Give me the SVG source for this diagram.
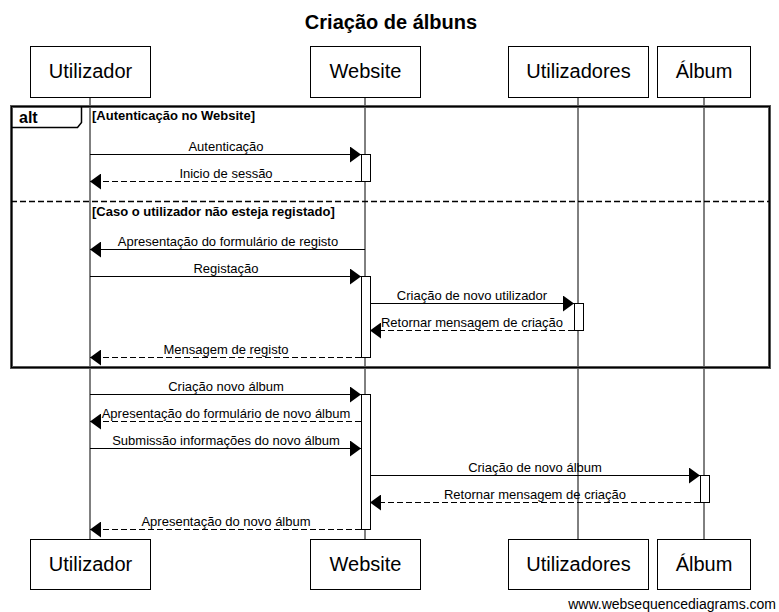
<svg xmlns="http://www.w3.org/2000/svg" width="779" height="612" viewBox="0 0 779 612">
<defs>
<marker id="ah" markerWidth="12" markerHeight="16" refX="11" refY="8" orient="auto" markerUnits="userSpaceOnUse">
<path d="M0,0 L11,8 L0,16 Z" fill="#000"/>
</marker>
<style>
text{font-family:"Liberation Sans",Arial,sans-serif;fill:#000}
.box{fill:#fff;stroke:#000;stroke-width:1}
.life{stroke:#000;stroke-width:1}
.act{fill:#fff;stroke:#000;stroke-width:1}
.node{font-size:20px;text-anchor:middle}
.msg{font-size:13px;text-anchor:middle}
.solid{stroke:#000;stroke-width:1;fill:none;marker-end:url(#ah)}
.dash{stroke:#000;stroke-width:1;fill:none;stroke-dasharray:6,3;marker-end:url(#ah)}
.guard{font-size:13px;font-weight:bold}
</style>
</defs>
<rect width="779" height="612" fill="#fff"/>
<text x="391" y="29" font-size="20" font-weight="bold" text-anchor="middle">Criação de álbuns</text>

<g id="lifelines">
<line class="life" x1="90" y1="97" x2="90" y2="539"/>
<line class="life" x1="365" y1="97" x2="365" y2="539"/>
<line class="life" x1="578" y1="97" x2="578" y2="539"/>
<line class="life" x1="704" y1="97" x2="704" y2="539"/>
</g>

<g id="alt-frame">
<rect x="11.5" y="106.5" width="758" height="261" fill="none" stroke="#555" stroke-width="3"/>
<rect x="11.5" y="106.5" width="758" height="261" fill="none" stroke="#000" stroke-width="1"/>
<path d="M11.5,127.5 L77.5,127.5 L81.5,122.5 L81.5,106.5" fill="none" stroke="#000" stroke-width="1.5"/>
<text x="19" y="123" font-size="16" font-weight="bold">alt</text>
<text class="guard" x="92" y="120">[Autenticação no Website]</text>
<line x1="11" y1="201.5" x2="770" y2="201.5" stroke="#000" stroke-width="1.5" stroke-dasharray="6,3"/>
<text class="guard" x="92" y="216">[Caso o utilizador não esteja registado]</text>
</g>

<g id="activations">
<rect class="act" x="361.5" y="154.5" width="9" height="27"/>
<rect class="act" x="361.5" y="276.5" width="9" height="81"/>
<rect class="act" x="574.5" y="303.5" width="9" height="27"/>
<rect class="act" x="361.5" y="394.5" width="9" height="135"/>
<rect class="act" x="700.5" y="475.5" width="9" height="27"/>
</g>

<g id="connectors">
<line class="solid" x1="90" y1="154.5" x2="361" y2="154.5"/>
<text class="msg" x="226" y="151">Autenticação</text>
<line class="dash" x1="361" y1="181.5" x2="90" y2="181.5"/>
<text class="msg" x="226" y="178">Inicio de sessão</text>
<line class="solid" x1="365" y1="249.5" x2="90" y2="249.5"/>
<text class="msg" x="228" y="246">Apresentação do formulário de registo</text>
<line class="solid" x1="90" y1="276.5" x2="361" y2="276.5"/>
<text class="msg" x="226" y="273">Registação</text>
<line class="solid" x1="370" y1="303.5" x2="574" y2="303.5"/>
<text class="msg" x="472" y="300">Criação de novo utilizador</text>
<line class="dash" x1="574" y1="330.5" x2="370" y2="330.5"/>
<text class="msg" x="472" y="327">Retornar mensagem de criação</text>
<line class="dash" x1="361" y1="357.5" x2="90" y2="357.5"/>
<text class="msg" x="226" y="354">Mensagem de registo</text>
<line class="solid" x1="90" y1="394.5" x2="361" y2="394.5"/>
<text class="msg" x="226" y="391">Criação novo álbum</text>
<line class="dash" x1="361" y1="421.5" x2="90" y2="421.5"/>
<text class="msg" x="226" y="418">Apresentação do formulário de novo álbum</text>
<line class="solid" x1="90" y1="448.5" x2="361" y2="448.5"/>
<text class="msg" x="226" y="445">Submissão informações do novo álbum</text>
<line class="solid" x1="370" y1="475.5" x2="700" y2="475.5"/>
<text class="msg" x="535" y="472">Criação de novo álbum</text>
<line class="dash" x1="700" y1="502.5" x2="370" y2="502.5"/>
<text class="msg" x="535" y="499">Retornar mensagem de criação</text>
<line class="dash" x1="361" y1="529.5" x2="90" y2="529.5"/>
<text class="msg" x="226" y="526">Apresentação do novo álbum</text>
</g>

<g id="node-utilizador">
<rect class="box" x="30.5" y="46.5" width="120" height="51"/>
<text class="node" x="90.5" y="78">Utilizador</text>
<rect class="box" x="30.5" y="539.5" width="120" height="50"/>
<text class="node" x="90.5" y="571">Utilizador</text>
</g>
<g id="node-website">
<rect class="box" x="310.5" y="46.5" width="110" height="51"/>
<text class="node" x="365.5" y="78">Website</text>
<rect class="box" x="310.5" y="539.5" width="110" height="50"/>
<text class="node" x="365.5" y="571">Website</text>
</g>
<g id="node-utilizadores">
<rect class="box" x="508.5" y="46.5" width="140" height="51"/>
<text class="node" x="578.5" y="78">Utilizadores</text>
<rect class="box" x="508.5" y="539.5" width="140" height="50"/>
<text class="node" x="578.5" y="571">Utilizadores</text>
</g>
<g id="node-album">
<rect class="box" x="657.5" y="46.5" width="93" height="51"/>
<text class="node" x="704" y="78">Álbum</text>
<rect class="box" x="657.5" y="539.5" width="93" height="50"/>
<text class="node" x="704" y="571">Álbum</text>
</g>

<text x="776" y="609" font-size="14" text-anchor="end">www.websequencediagrams.com</text>
</svg>
